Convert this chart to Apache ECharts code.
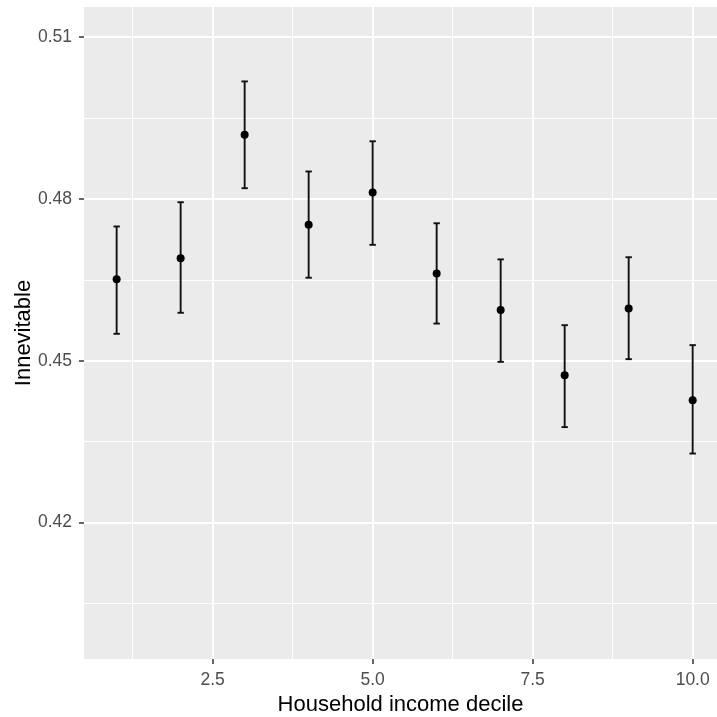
<!DOCTYPE html>
<html>
<head>
<meta charset="utf-8">
<script src="https://cdn.jsdelivr.net/npm/echarts@6/dist/echarts.min.js"></script>
<style>html,body{margin:0;padding:0;background:#fff}#c{width:717px;height:717px}</style>
</head>
<body>
<div id="c"></div>
<script>
// Data
const deciles = [1, 2, 3, 4, 5, 6, 7, 8, 9, 10];
const means   = [0.4651, 0.4690, 0.4919, 0.4752, 0.4812, 0.4662, 0.4594, 0.4473, 0.4597, 0.4427];
const lower   = [0.4550, 0.4589, 0.4820, 0.4654, 0.4715, 0.4569, 0.4498, 0.4377, 0.4503, 0.4328];
const upper   = [0.4749, 0.4794, 0.5018, 0.4851, 0.4907, 0.4755, 0.4688, 0.4566, 0.4692, 0.4529];
const xMajor = [2.5, 5.0, 7.5, 10.0];
const xMinor = [1.25, 3.75, 6.25, 8.75];
const yMajor = [0.42, 0.45, 0.48, 0.51];
const yMinor = [0.405, 0.435, 0.465, 0.495];
const xRange = [0.49, 10.38];
const yRange = [0.3947, 0.5156];

const FONT = '"Liberation Sans", Arial, sans-serif';
const chart = echarts.init(document.getElementById('c'), null, {renderer: 'canvas'});

const pointData = deciles.map((d, i) => [d, means[i]]);
const barData = deciles.map((d, i) => [d, lower[i], upper[i]]);

function minorAxis(range, vals, pos) {
  return {
    type: 'value', min: range[0], max: range[1], position: pos,
    axisLine: {show: false},
    axisTick: {show: false, customValues: vals},
    axisLabel: {show: false, customValues: vals},
    splitLine: {show: true, lineStyle: {color: '#ffffff', width: 1}},
    z: 0
  };
}

chart.setOption({
  animation: false,
  backgroundColor: '#ffffff',
  grid: {left: 84, top: 7, right: 0, bottom: 58, show: true, backgroundColor: '#EBEBEB', borderWidth: 0,
         containLabel: false, outerBoundsMode: 'none'},
  xAxis: [
    {
      type: 'value', min: xRange[0], max: xRange[1], position: 'bottom',
      name: 'Household income decile', nameLocation: 'middle', nameGap: 31,
      nameTextStyle: {fontFamily: FONT, fontSize: 22, color: '#000000'},
      axisLine: {show: false},
      axisTick: {show: true, customValues: xMajor, length: 5, lineStyle: {color: '#333333', width: 1.5}},
      axisLabel: {customValues: xMajor, fontFamily: FONT, fontSize: 17.5, color: '#4D4D4D', margin: 12,
                  formatter: v => v.toFixed(1)},
      splitLine: {show: true, lineStyle: {color: '#ffffff', width: 2}},
      z: 1
    },
    minorAxis(xRange, xMinor, 'bottom')
  ],
  yAxis: [
    {
      type: 'value', min: yRange[0], max: yRange[1], position: 'left',
      name: 'Innevitable', nameLocation: 'middle', nameGap: 49, nameMoveOverlap: false,
      nameTextStyle: {fontFamily: FONT, fontSize: 22, color: '#000000'},
      axisLine: {show: false},
      axisTick: {show: true, customValues: yMajor, length: 5, lineStyle: {color: '#333333', width: 1.5}},
      axisLabel: {customValues: yMajor, fontFamily: FONT, fontSize: 17.5, color: '#4D4D4D', margin: 12,
                  formatter: v => v.toFixed(2)},
      splitLine: {show: true, lineStyle: {color: '#ffffff', width: 2}},
      z: 1
    },
    minorAxis(yRange, yMinor, 'left')
  ],
  series: [
    {
      type: 'custom', xAxisIndex: 0, yAxisIndex: 0, data: barData, z: 5,
      renderItem: function (params, api) {
        const x = api.value(0);
        const lo = api.coord([x, api.value(1)]);
        const hi = api.coord([x, api.value(2)]);
        const hw = 3.2;
        const style = {stroke: '#111111', lineWidth: 1.9, fill: null};
        return {
          type: 'group',
          children: [
            {type: 'line', shape: {x1: lo[0], y1: lo[1], x2: hi[0], y2: hi[1]}, style: style},
            {type: 'line', shape: {x1: hi[0] - hw, y1: hi[1], x2: hi[0] + hw, y2: hi[1]}, style: style},
            {type: 'line', shape: {x1: lo[0] - hw, y1: lo[1], x2: lo[0] + hw, y2: lo[1]}, style: style}
          ]
        };
      }
    },
    {
      type: 'scatter', xAxisIndex: 0, yAxisIndex: 0, data: pointData, z: 6,
      symbol: 'circle', symbolSize: 8,
      itemStyle: {color: '#000000', opacity: 1}
    }
  ]
});
</script>
</body>
</html>
